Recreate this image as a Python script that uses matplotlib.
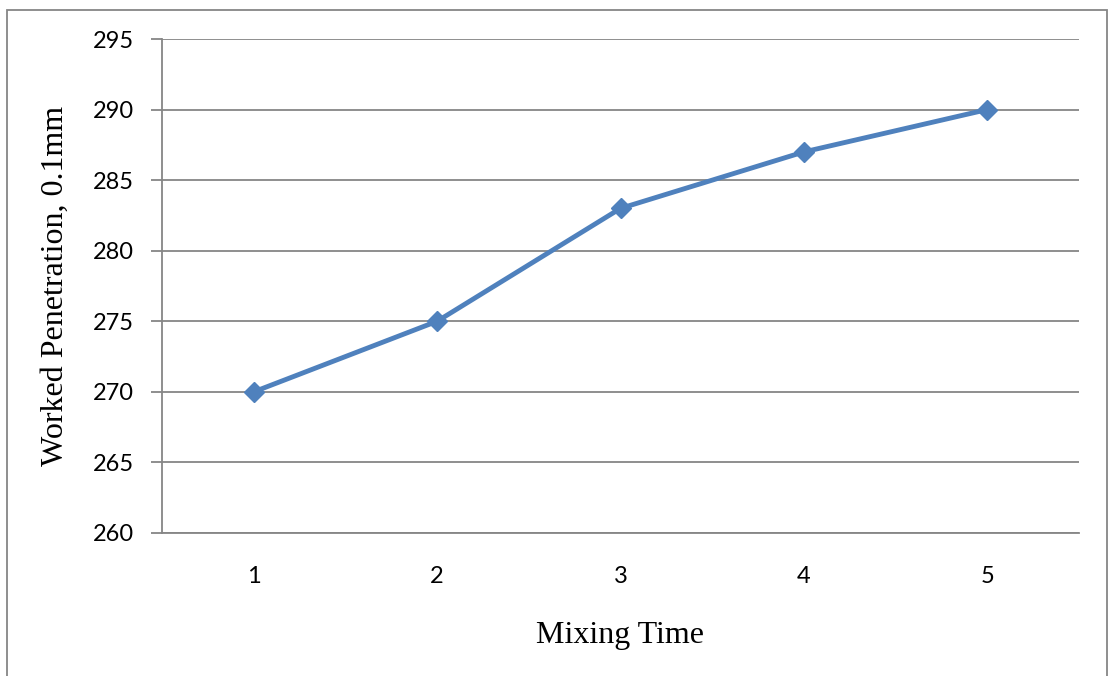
import matplotlib
matplotlib.use("Agg")
import matplotlib.pyplot as plt
from matplotlib.patches import Rectangle

# Data
mixing_time = [1, 2, 3, 4, 5]
penetration = [270, 275, 283, 287, 290]
y_ticks = [260, 265, 270, 275, 280, 285, 290, 295]

line_color = "#4F81BD"
grid_color = "#868686"

fig = plt.figure(figsize=(11.12, 6.76), dpi=100)
ax = fig.add_axes([162 / 1112, 143 / 676, 917 / 1112, 494 / 676])

ax.plot(mixing_time, penetration, color=line_color, linewidth=3.5,
        marker="D", markersize=10, markerfacecolor=line_color,
        markeredgecolor=line_color, zorder=3)

ax.set_xlim(0.5, 5.5)
ax.set_ylim(260, 295)
ax.set_yticks(y_ticks)
ax.set_xticks(mixing_time)
ax.yaxis.grid(True, color=grid_color, linewidth=1.3)
ax.set_axisbelow(True)

for side in ["top", "right"]:
    ax.spines[side].set_visible(False)
for side in ["left", "bottom"]:
    ax.spines[side].set_color(grid_color)
    ax.spines[side].set_linewidth(1.3)

ax.tick_params(axis="y", length=8, width=1.3, color=grid_color, pad=12,
               labelsize=17)
ax.tick_params(axis="x", length=0, pad=24, labelsize=17)
for lbl in ax.get_xticklabels() + ax.get_yticklabels():
    lbl.set_fontfamily(["Lato", "DejaVu Sans"])

ax.set_xlabel("Mixing Time", fontfamily="Liberation Serif", fontsize=23,
              labelpad=24)
ax.set_ylabel("Worked Penetration, 0.1mm", fontfamily="Liberation Serif",
              fontsize=23, labelpad=17)

# outer chart border
fig.patches.append(Rectangle((7 / 1112, -0.01), 1100 / 1112, 666 / 676 + 0.01,
                             transform=fig.transFigure, fill=False,
                             edgecolor=grid_color, linewidth=1.3))

fig.savefig("out.png", dpi=100)
